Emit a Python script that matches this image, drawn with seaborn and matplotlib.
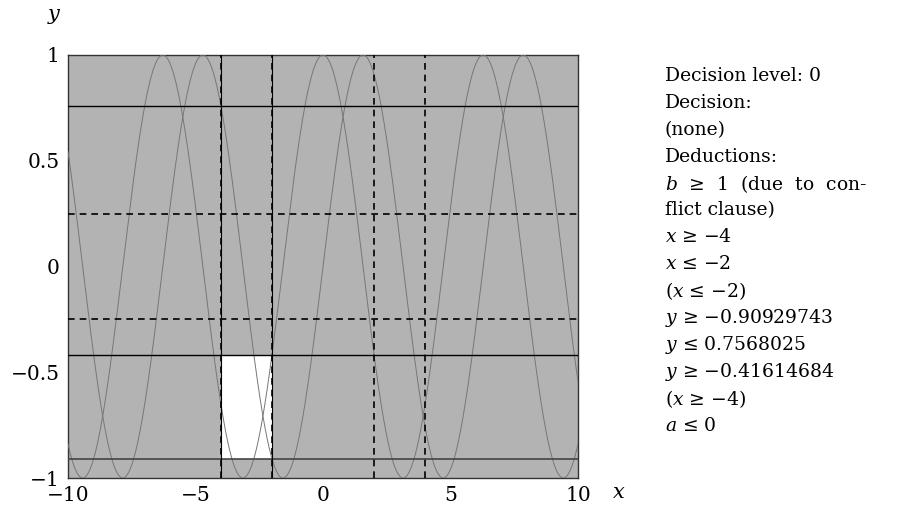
import numpy as np
import pandas as pd
import matplotlib
matplotlib.use("Agg")
import matplotlib.pyplot as plt
import seaborn as sns

# chart values

x_range = [-10, 10]
y_range = [-1, 1]
x_ticks = [-10, -5, 0, 5, 10]
y_ticks = [-1, -0.5, 0, 0.5, 1]
y_tick_labels = ["\u22121", "\u22120.5", "0", "0.5", "1"]
x_tick_labels = ["\u221210", "\u22125", "0", "5", "10"]
curve_names = ["sin", "cos"]

# box found by the solver
box_x = [-4, -2]
box_y = [-0.90929743, -0.41614684]

hlines_solid = [0.7568025, -0.41614684]
hlines_gray = [-0.90929743]
hlines_dashed = [0.25, -0.25]
vlines_solid = [-4, -2]
vlines_dashed = [-4, -2, 2, 4]

info_lines = [
    "Decision level: 0",
    "Decision:",
    "(none)",
    "Deductions:",
    "$b$  \u2265  1  (due  to  con-",
    "flict clause)",
    "$x$ \u2265 \u22124",
    "$x$ \u2264 \u22122",
    "($x$ \u2264 \u22122)",
    "$y$ \u2265 \u22120.90929743",
    "$y$ \u2264 0.7568025",
    "$y$ \u2265 \u22120.41614684",
    "($x$ \u2265 \u22124)",
    "$a$ \u2264 0",
]

# build the curve table

xs = np.linspace(x_range[0], x_range[1], 800)
frames = []
for name in curve_names:
    frames.append(pd.DataFrame({"x": xs, "y": getattr(np, name)(xs), "f": name}))
curves = pd.concat(frames)

sns.set_style("white")
plt.rcParams["font.family"] = ["DejaVu Serif"]
plt.rcParams["mathtext.fontset"] = "dejavuserif"
plt.rcParams["text.color"] = "black"
plt.rcParams["xtick.color"] = "black"
plt.rcParams["ytick.color"] = "black"

fig = plt.figure(figsize=(9.02, 5.08), dpi=100)
ax = fig.add_axes([68 / 902, 1 - 478 / 508, 510 / 902, 423 / 508])
ax.set_facecolor("#b3b3b3")

ax.fill_between(box_x, box_y[0], box_y[1], color="white", lw=0, zorder=1)

sns.lineplot(data=curves, x="x", y="y", units="f", estimator=None,
             color="#777777", lw=0.7, ax=ax, zorder=3)

for v in hlines_solid:
    ax.axhline(v, color="black", lw=1.0, zorder=4)
for v in hlines_gray:
    ax.axhline(v, color="#444444", lw=1.2, zorder=4)
for v in hlines_dashed:
    ax.axhline(v, color="black", lw=1.2, ls=(0, (4, 3)), zorder=4)
for v in vlines_solid:
    ax.axvline(v, color="black", lw=0.8, zorder=4)
for v in vlines_dashed:
    ax.axvline(v, color="black", lw=1.2, ls=(0, (4, 3)), zorder=4)

ax.set_xlim(x_range)
ax.set_ylim(y_range)
ax.set_xticks(x_ticks)
ax.set_xticklabels(x_tick_labels)
ax.set_yticks(y_ticks)
ax.set_yticklabels(y_tick_labels)
ax.tick_params(direction="in", length=5, width=0.6, color="#888888",
               labelcolor="black", labelsize=14.5, pad=6)
for s in ax.spines.values():
    s.set_color("#333333")
    s.set_linewidth(1.0)
ax.set_xlabel("")
ax.set_ylabel("")

fig.text(54 / 902, 1 - 16 / 508, "$y$", fontsize=15, ha="center", va="center")
fig.text(619 / 902, 1 - 493 / 508, "$x$", fontsize=15, ha="center", va="center")

# solver state panel
y0 = 76
for i, line in enumerate(info_lines):
    fig.text(665 / 902, 1 - (y0 + i * 26.9) / 508, line, fontsize=13.5,
             ha="left", va="center")

fig.savefig("out.png", dpi=100)
